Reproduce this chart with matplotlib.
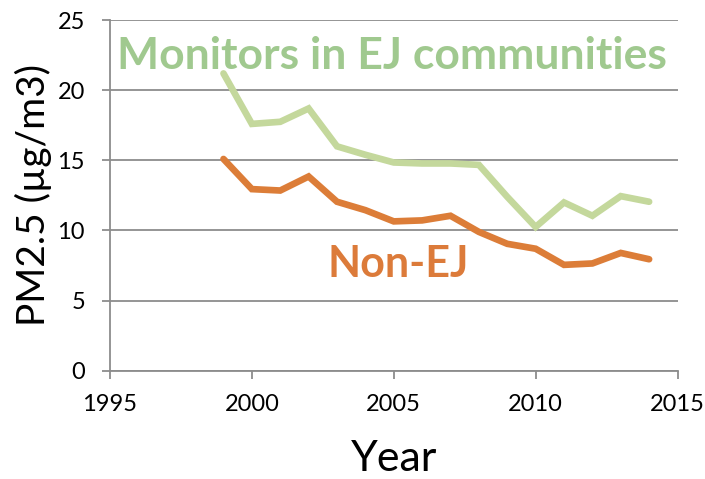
import numpy as np
import matplotlib.pyplot as plt

# data
years = np.arange(1999, 2015)
ej = [21.2, 17.6, 17.75, 18.7, 16.0, 15.4, 14.85, 14.78, 14.78, 14.68,
      12.4, 10.25, 12.0, 11.05, 12.45, 12.05]
non_ej = [15.1, 12.95, 12.85, 13.85, 12.05, 11.45, 10.65, 10.72, 11.05, 9.9,
          9.05, 8.7, 7.55, 7.65, 8.4, 7.95]

plt.rcParams['font.family'] = ['Lato', 'DejaVu Sans']

fig = plt.figure(figsize=(7.05, 4.79), dpi=100)
ax = fig.add_axes([0.156, 0.226, 0.805, 0.732])

ax.plot(years, ej, color='#c4d89c', lw=4.8, solid_capstyle='round', solid_joinstyle='miter')
ax.plot(years, non_ej, color='#dc7d38', lw=4.8, solid_capstyle='round', solid_joinstyle='miter')

ax.set_xlim(1995, 2015)
ax.set_ylim(0, 25)
ax.set_xticks(range(1995, 2016, 5))
ax.set_yticks(range(0, 26, 5))
ax.yaxis.grid(True, color='#8c8c8c', lw=1.3)
ax.set_axisbelow(True)
for s in ['top', 'right']:
    ax.spines[s].set_visible(False)
for s in ['left', 'bottom']:
    ax.spines[s].set_color('#8c8c8c')
    ax.spines[s].set_linewidth(1.3)
ax.tick_params(axis='both', colors='#8c8c8c', labelcolor='black', labelsize=17,
               length=6, width=1.3)
ax.tick_params(axis='x', pad=11)
ax.tick_params(axis='y', pad=12)

ax.set_xlabel('Year', fontsize=31, labelpad=18)
ax.set_ylabel('PM2.5 (µg/m3)', fontsize=28, labelpad=4)

ax.text(2004.92, 22.45, 'Monitors in EJ communities', color='#a0c98f', fontsize=32,
        fontweight='bold', ha='center', va='center')
ax.text(2005.15, 7.6, 'Non-EJ', color='#dc7b3a', fontsize=31,
        fontweight='bold', ha='center', va='center')

fig.savefig('out.png', dpi=100)
